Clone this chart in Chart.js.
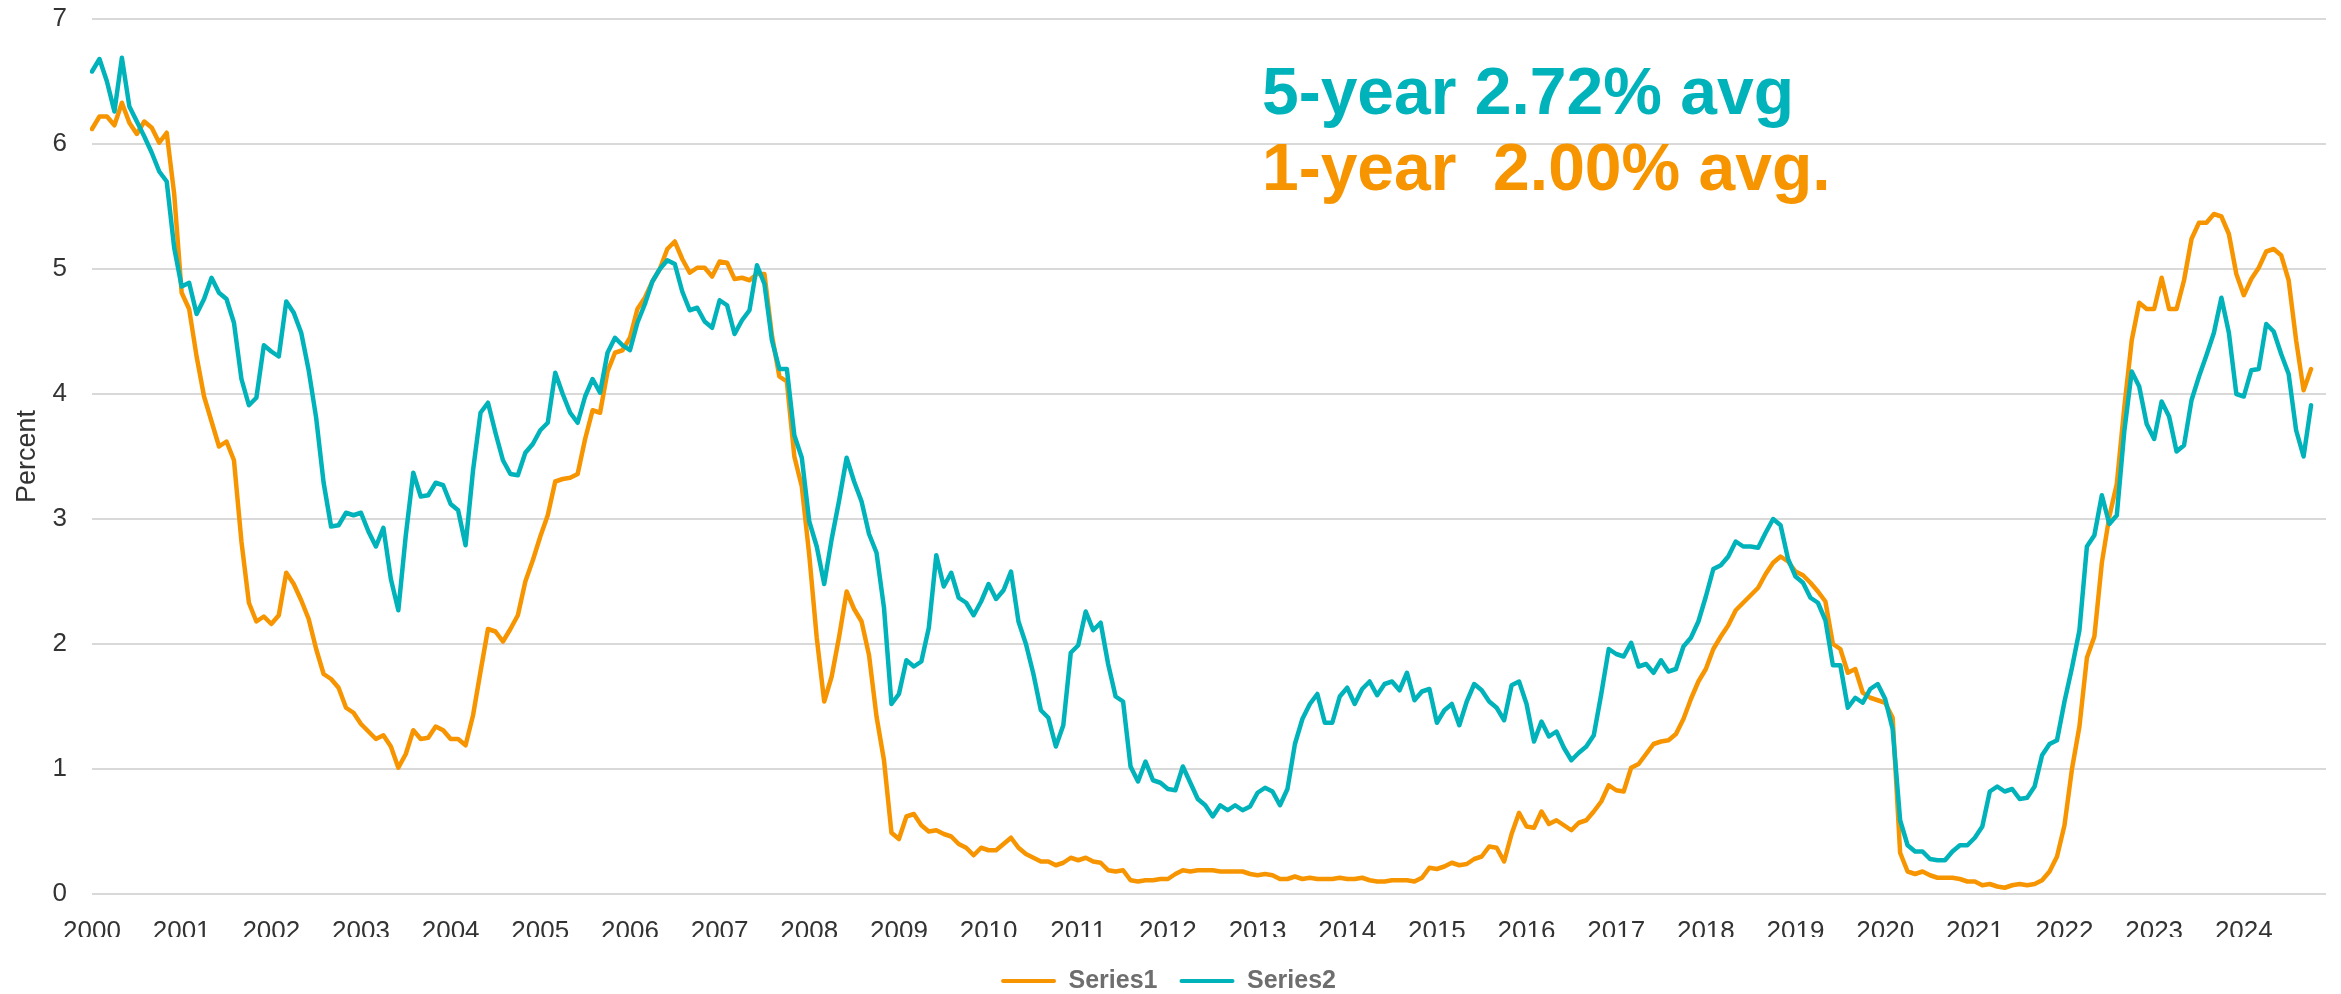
<!DOCTYPE html>
<html>
<head>
<meta charset="utf-8">
<script src="https://cdn.jsdelivr.net/npm/chart.js@4.4.1/dist/chart.umd.min.js"></script>
<style>
html,body{margin:0;padding:0;background:#ffffff;}
#wrap{width:2341px;height:994px;position:relative;}
</style>
</head>
<body>
<div id="wrap"><canvas id="c" width="2341" height="994"></canvas></div>
<script>
// ---- data ----
const years = [2000,2001,2002,2003,2004,2005,2006,2007,2008,2009,2010,2011,2012,
               2013,2014,2015,2016,2017,2018,2019,2020,2021,2022,2023,2024];
const yTicks = [0,1,2,3,4,5,6,7];
const seriesNames = ['Series1','Series2'];
const notes = ['5-year 2.72% avg', '1-year  2.00% avg.'];

// Series1 : 1-year (monthly, Jan 2000 - Oct 2024)
const oneYear = [
  6.12,6.22,6.22,6.15,6.33,6.17,6.08,6.18,6.13,6.01,6.09,5.60,
  4.81,4.68,4.30,3.98,3.78,3.58,3.62,3.47,2.82,2.33,2.18,2.22,
  2.16,2.23,2.57,2.48,2.35,2.20,1.96,1.76,1.72,1.65,1.49,1.45,
  1.36,1.30,1.24,1.27,1.18,1.01,1.12,1.31,1.24,1.25,1.34,1.31,
  1.24,1.24,1.19,1.43,1.78,2.12,2.10,2.02,2.12,2.23,2.50,2.67,
  2.86,3.03,3.30,3.32,3.33,3.36,3.64,3.87,3.85,4.18,4.33,4.35,
  4.45,4.68,4.77,4.90,5.00,5.16,5.22,5.08,4.97,5.01,5.01,4.94,
  5.06,5.05,4.92,4.93,4.91,4.96,4.96,4.47,4.14,4.10,3.50,3.26,
  2.71,2.05,1.54,1.74,2.06,2.42,2.28,2.18,1.91,1.42,1.07,0.49,
  0.44,0.62,0.64,0.55,0.50,0.51,0.48,0.46,0.40,0.37,0.31,0.37,
  0.35,0.35,0.40,0.45,0.37,0.32,0.29,0.26,0.26,0.23,0.25,0.29,
  0.27,0.29,0.26,0.25,0.19,0.18,0.19,0.11,0.10,0.11,0.11,0.12,
  0.12,0.16,0.19,0.18,0.19,0.19,0.19,0.18,0.18,0.18,0.18,0.16,
  0.15,0.16,0.15,0.12,0.12,0.14,0.12,0.13,0.12,0.12,0.12,0.13,
  0.12,0.12,0.13,0.11,0.10,0.10,0.11,0.11,0.11,0.10,0.13,0.21,
  0.20,0.22,0.25,0.23,0.24,0.28,0.30,0.38,0.37,0.26,0.48,0.65,
  0.54,0.53,0.66,0.56,0.59,0.55,0.51,0.57,0.59,0.66,0.74,0.87,
  0.83,0.82,1.01,1.04,1.12,1.20,1.22,1.23,1.28,1.40,1.56,1.70,
  1.80,1.96,2.06,2.15,2.27,2.33,2.39,2.45,2.56,2.65,2.70,2.66,
  2.58,2.55,2.49,2.42,2.34,2.00,1.96,1.77,1.80,1.61,1.57,1.55,
  1.53,1.41,0.33,0.18,0.16,0.18,0.15,0.13,0.13,0.13,0.12,0.10,
  0.10,0.07,0.08,0.06,0.05,0.07,0.08,0.07,0.08,0.11,0.18,0.30,
  0.55,1.00,1.34,1.89,2.06,2.65,3.02,3.28,3.89,4.43,4.73,4.68,
  4.68,4.93,4.68,4.68,4.91,5.24,5.37,5.37,5.44,5.42,5.28,4.96,
  4.79,4.92,5.01,5.14,5.16,5.11,4.91,4.43,4.03,4.20
];

// Series2 : 5-year (monthly, Jan 2000 - Oct 2024)
const fiveYear = [
  6.58,6.68,6.50,6.26,6.69,6.30,6.18,6.06,5.93,5.78,5.70,5.17,
  4.86,4.89,4.64,4.76,4.93,4.81,4.76,4.57,4.12,3.91,3.97,4.39,
  4.34,4.30,4.74,4.65,4.49,4.19,3.81,3.29,2.94,2.95,3.05,3.03,
  3.05,2.90,2.78,2.93,2.52,2.27,2.87,3.37,3.18,3.19,3.29,3.27,
  3.12,3.07,2.79,3.39,3.85,3.93,3.69,3.47,3.36,3.35,3.53,3.60,
  3.71,3.77,4.17,4.00,3.85,3.77,3.98,4.12,4.01,4.33,4.45,4.39,
  4.35,4.57,4.72,4.90,5.00,5.07,5.04,4.82,4.67,4.69,4.58,4.53,
  4.75,4.71,4.48,4.59,4.67,5.03,4.88,4.43,4.20,4.20,3.67,3.49,
  2.98,2.78,2.48,2.84,3.15,3.49,3.30,3.14,2.88,2.73,2.29,1.52,
  1.60,1.87,1.82,1.86,2.13,2.71,2.46,2.57,2.37,2.33,2.23,2.34,
  2.48,2.36,2.43,2.58,2.18,2.00,1.76,1.47,1.41,1.18,1.35,1.93,
  1.99,2.26,2.11,2.17,1.84,1.58,1.54,1.02,0.90,1.06,0.91,0.89,
  0.84,0.83,1.02,0.89,0.76,0.71,0.62,0.71,0.67,0.71,0.67,0.70,
  0.81,0.85,0.82,0.71,0.84,1.20,1.40,1.52,1.60,1.37,1.37,1.58,
  1.65,1.52,1.64,1.70,1.59,1.68,1.70,1.63,1.77,1.55,1.62,1.64,
  1.37,1.47,1.52,1.35,1.54,1.68,1.63,1.54,1.49,1.39,1.67,1.70,
  1.52,1.22,1.38,1.26,1.30,1.17,1.07,1.13,1.18,1.27,1.60,1.96,
  1.92,1.90,2.01,1.82,1.84,1.77,1.87,1.78,1.80,1.98,2.05,2.18,
  2.38,2.60,2.63,2.70,2.82,2.78,2.78,2.77,2.89,3.00,2.95,2.68,
  2.54,2.49,2.37,2.33,2.19,1.83,1.83,1.49,1.57,1.53,1.64,1.68,
  1.56,1.32,0.59,0.39,0.34,0.34,0.28,0.27,0.27,0.34,0.39,0.39,
  0.45,0.54,0.82,0.86,0.82,0.84,0.76,0.77,0.86,1.11,1.20,1.23,
  1.54,1.81,2.11,2.78,2.87,3.19,2.96,3.03,3.70,4.18,4.06,3.76,
  3.64,3.94,3.82,3.54,3.59,3.95,4.14,4.31,4.49,4.77,4.49,4.00,
  3.98,4.19,4.20,4.56,4.50,4.32,4.16,3.71,3.50,3.91
];

// ---- categories: one per month ----
const months = [];
years.forEach(y => { for (let m = 1; m <= 12; m++) months.push(y + '-' + String(m).padStart(2, '0')); });

const ORANGE = '#F79500';
const TEAL = '#00B3BB';
const FONT = '"Liberation Sans", Arial, Helvetica, sans-serif';
Chart.defaults.font.family = FONT;

const notesPlugin = {
  id: 'notes',
  afterDatasetsDraw(chart) {
    const {ctx, chartArea, scales} = chart;
    const x = chartArea.left + 0.5237 * (chartArea.right - chartArea.left);
    ctx.save();
    ctx.font = 'bold 66px ' + FONT;
    ctx.textBaseline = 'alphabetic';
    ctx.textAlign = 'left';
    ctx.fillStyle = TEAL;
    ctx.fillText(notes[0], x, scales.y.getPixelForValue(6.24));
    ctx.fillStyle = ORANGE;
    ctx.fillText(notes[1], x, scales.y.getPixelForValue(5.63));
    ctx.restore();
  }
};

const legendShift = {
  id: 'legendShift',
  afterLayout(chart) {
    const l = chart.legend;
    if (!l) return;
    const cur = l.top + l.options.labels.padding + 12.5;
    const d = (chart.height - 13) - cur;
    l.top += d; l.bottom += d;
  }
};

new Chart(document.getElementById('c'), {
  type: 'line',
  data: {
    labels: months,
    datasets: [
      { label: seriesNames[0], data: oneYear, borderColor: ORANGE, backgroundColor: ORANGE,
        borderWidth: 4.5, pointRadius: 0, tension: 0, borderJoinStyle: 'round', borderCapStyle: 'round', order: 1 },
      { label: seriesNames[1], data: fiveYear, borderColor: TEAL, backgroundColor: TEAL,
        borderWidth: 4.5, pointRadius: 0, tension: 0, borderJoinStyle: 'round', borderCapStyle: 'round', order: 0 }
    ]
  },
  options: {
    responsive: false,
    animation: false,
    devicePixelRatio: 1,
    layout: { padding: { top: 19, right: 15, left: 11, bottom: 0 } },
    plugins: {
      tooltip: { enabled: false },
      legend: {
        position: 'bottom',
        labels: {
          boxWidth: 55, boxHeight: 4, padding: 22,
          font: { size: 25, weight: 'bold', family: FONT },
          color: '#6E6E6E',
          useBorderRadius: true, borderRadius: 2,
          sort: (a, b) => a.datasetIndex - b.datasetIndex,
          generateLabels(chart) {
            return Chart.defaults.plugins.legend.labels.generateLabels(chart).map(it => {
              it.lineWidth = 0; it.fillStyle = it.strokeStyle; return it;
            });
          }
        }
      }
    },
    scales: {
      x: {
        type: 'category',
        offset: false,
        grid: { display: false },
        border: { display: false },
        afterFit(s) { s.height = 43; },
        ticks: {
          autoSkip: false, maxRotation: 0, minRotation: 0,
          padding: 14,
          color: '#333333',
          font: { size: 26, family: FONT },
          callback(v) {
            const l = this.getLabelForValue(v);
            return l.endsWith('-01') ? l.slice(0, 4) : null;
          }
        }
      },
      y: {
        min: 0, max: 7,
        afterFit(s) { s.paddingTop = 0; s.paddingBottom = 0; },
        afterBuildTicks(s) { s.ticks = yTicks.map(v => ({ value: v })); },
        grid: { color: '#D9D9D9', lineWidth: 2, drawTicks: false },
        border: { display: false },
        ticks: { padding: 25, color: '#333333', font: { size: 26, family: FONT } },
        title: { display: true, text: 'Percent', color: '#333333',
                 font: { size: 27, family: FONT }, padding: { top: 0, bottom: -15.86 } }
      }
    }
  },
  plugins: [notesPlugin, legendShift]
});
</script>
</body>
</html>
